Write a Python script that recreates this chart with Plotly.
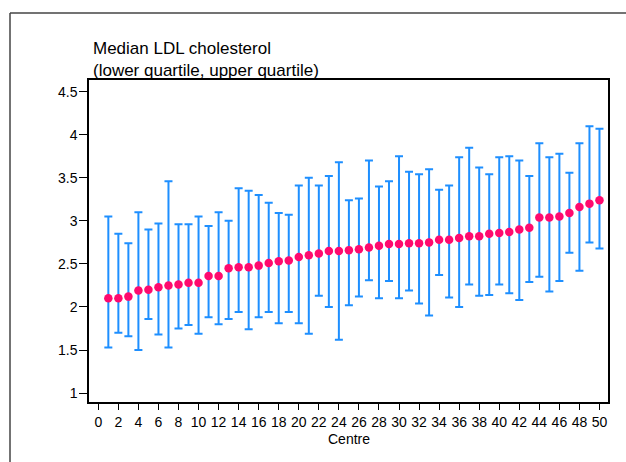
import plotly.graph_objects as go

centre = list(range(1, 51))
median = [2.10, 2.10, 2.12, 2.19, 2.20, 2.23, 2.25, 2.26, 2.28, 2.28,
          2.36, 2.36, 2.45, 2.46, 2.46, 2.48, 2.51, 2.53, 2.54, 2.58,
          2.60, 2.62, 2.65, 2.65, 2.66, 2.67, 2.69, 2.71, 2.73, 2.73,
          2.74, 2.74, 2.75, 2.78, 2.78, 2.80, 2.82, 2.82, 2.85, 2.86,
          2.87, 2.90, 2.92, 3.04, 3.04, 3.05, 3.09, 3.16, 3.20, 3.24]
lower = [1.53, 1.70, 1.66, 1.50, 1.86, 1.68, 1.53, 1.75, 1.79, 1.69,
         1.88, 1.80, 1.86, 1.94, 1.74, 1.88, 1.94, 1.81, 1.94, 1.81,
         1.69, 2.13, 2.00, 1.62, 2.02, 2.12, 2.31, 2.10, 2.30, 2.10,
         2.19, 2.04, 1.90, 2.37, 2.11, 2.00, 2.26, 2.13, 2.14, 2.26,
         2.16, 2.08, 2.29, 2.35, 2.18, 2.30, 2.63, 2.42, 2.75, 2.68]
upper = [3.05, 2.85, 2.74, 3.10, 2.90, 2.97, 3.46, 2.96, 2.96, 3.05,
         2.94, 3.10, 3.00, 3.38, 3.35, 3.30, 3.21, 3.09, 3.07, 3.41,
         3.50, 3.41, 3.52, 3.68, 3.24, 3.26, 3.70, 3.40, 3.46, 3.75,
         3.57, 3.54, 3.60, 3.36, 3.41, 3.74, 3.85, 3.62, 3.54, 3.74,
         3.75, 3.70, 3.52, 3.90, 3.74, 3.78, 3.56, 3.90, 4.10, 4.07]

x_ticks = list(range(0, 51, 2))
y_ticks = [1, 1.5, 2, 2.5, 3, 3.5, 4, 4.5]
y_tick_text = ["1", "1.5", "2", "2.5", "3", "3.5", "4", "4.5"]

err_plus = [u - m for u, m in zip(upper, median)]
err_minus = [m - l for m, l in zip(median, lower)]

fig = go.Figure()
fig.add_trace(go.Scatter(
    x=centre, y=median, mode="markers",
    marker=dict(color="#ff0a6e", size=8.5, line=dict(width=0)),
    error_y=dict(type="data", symmetric=False, array=err_plus, arrayminus=err_minus,
                 color="#1e8fff", thickness=2, width=4),
    showlegend=False,
))

font = "Liberation Sans, Arial, sans-serif"
W, H = 626, 462
ml, mt = 89, 80
pw, ph = 608 - 89, 402 - 80
mr, mb = W - ml - pw, H - mt - ph


def px_x(p):  # screen pixel -> paper x
    return (p - ml) / pw


def px_y(p):  # screen pixel -> paper y
    return 1 - (p - mt) / ph


fig.update_layout(
    width=W, height=H,
    margin=dict(l=ml, r=mr, t=mt, b=mb),
    paper_bgcolor="white", plot_bgcolor="white",
    font=dict(family=font, size=14, color="black"),
    xaxis=dict(range=[-0.93, 50.85], tickvals=x_ticks, ticks="outside", ticklen=6,
               tickwidth=1, tickcolor="black", showgrid=False, zeroline=False,
               showline=True, linecolor="black", linewidth=1.5, mirror=True,
               ticklabelstandoff=0,
               tickfont=dict(size=14, family=font)),
    yaxis=dict(range=[0.896, 4.636], tickvals=y_ticks, ticktext=y_tick_text,
               ticks="outside", ticklen=8, tickwidth=1, tickcolor="black",
               showgrid=False, zeroline=False, showline=True, linecolor="black",
               linewidth=1.5, mirror=True, ticklabelstandoff=-1,
               tickfont=dict(size=14, family=font)),
    annotations=[
        dict(text="Median LDL cholesterol", xref="paper", yref="paper",
             x=px_x(91), y=px_y(48), xanchor="left", yanchor="middle",
             showarrow=False, font=dict(size=17, family=font)),
        dict(text="(lower quartile, upper quartile)", xref="paper", yref="paper",
             x=px_x(91), y=px_y(70), xanchor="left", yanchor="middle",
             showarrow=False, font=dict(size=17, family=font)),
        dict(text="Centre", xref="paper", yref="paper",
             x=px_x(349), y=px_y(439), xanchor="center", yanchor="middle",
             showarrow=False, font=dict(size=14, family=font)),
    ],
    shapes=[
        dict(type="line", xref="paper", yref="paper", x0=px_x(10), x1=px_x(640),
             y0=px_y(13), y1=px_y(13), line=dict(color="#444", width=1.5)),
        dict(type="line", xref="paper", yref="paper", x0=px_x(10), x1=px_x(10),
             y0=px_y(13), y1=px_y(480), line=dict(color="#444", width=1.5)),
    ],
)

fig.write_html(
    "out.html",
    config={"displayModeBar": False},
    post_script="document.body.style.margin='0';document.body.style.overflow='hidden';",
)
